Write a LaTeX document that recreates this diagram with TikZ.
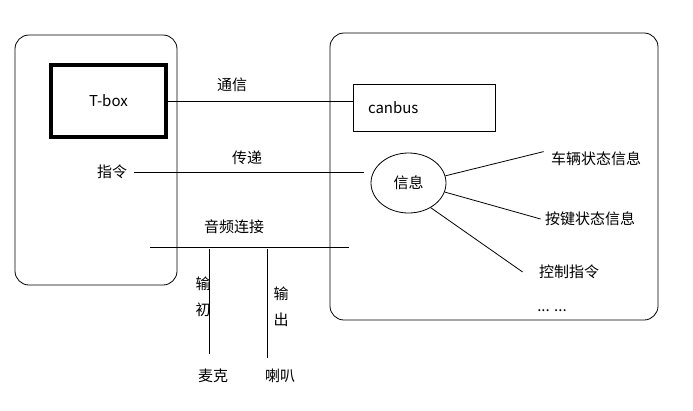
\documentclass[tikz,border=0pt]{standalone}
\usepackage{fontspec}
\setmainfont{Noto Sans CJK SC}
\usetikzlibrary{shapes.geometric}
\tikzset{
  panel/.style={draw, rounded corners=14pt},
  lbl/.style={inner sep=0pt, font=\fontsize{15}{18}\selectfont},
  vlbl/.style={inner sep=0pt, align=center, font=\fontsize{15}{26}\selectfont},
}

\begin{document}
\begin{tikzpicture}[x=1pt, y=-1pt, line width=0.8pt]
      \useasboundingbox (0,0) rectangle (693,410);
      % frames
      \draw[panel] (15,35) rectangle (177,285);
      \draw[panel] (330,33) rectangle (658,320);
      % nodes
      \node[draw, line width=4pt, minimum width=115pt, minimum height=72pt, lbl] (tbox) at (108.5,101) {T-box};
      \node[draw, minimum width=142pt, minimum height=47pt, text width=112pt, inner xsep=15pt, align=left, font=\fontsize{15}{18}\selectfont] (canbus) at (424,107.5) {canbus};
      \node[draw, ellipse, minimum width=75pt, minimum height=60pt, lbl] (info) at (408.5,183) {信息};
      \node[lbl] (cmd) at (112,172) {指令};
      \node[lbl] (veh) at (596,159) {车辆状态信息};
      \node[lbl] (key) at (590,219) {按键状态信息};
      \node[lbl] (ctrl) at (569,272) {控制指令};
      \node[lbl] (more) at (552,311) {... ...};
      \node[lbl] (mic) at (213,376) {麦克};
      \node[lbl] (spk) at (280,376) {喇叭};
      \coordinate (audioL) at (150,247);
      \coordinate (audioR) at (349,247);
      % labels
      \node[lbl] at (232,85) {通信};
      \node[lbl] at (247,158) {传递};
      \node[lbl] at (234,227) {音频连接};
      \node[vlbl] at (203,297) {输\\初};
      \node[vlbl] at (281,306.5) {输\\出};
      % lines
      \draw (tbox.east) -- (tbox.east -| canbus.west);
      \draw ([xshift=7pt]cmd.east) -- ([xshift=-7pt]cmd.east -| info.west);
      \draw (info.11) -- ([xshift=-7pt]veh.north west);
      \draw (info.-14) -- ([xshift=-4pt]key.west);
      \draw (info.-48) -- ([xshift=-16pt]ctrl.west);
      \draw (audioL) -- (audioR);
      \draw ([xshift=-4pt,yshift=-2pt]audioL -| mic) -- ([xshift=-4pt,yshift=15pt]mic.north);
      \draw ([xshift=-13pt,yshift=-2pt]audioL -| spk) -- ([xshift=-13pt,yshift=11pt]spk.north);
\end{tikzpicture}
\end{document}
